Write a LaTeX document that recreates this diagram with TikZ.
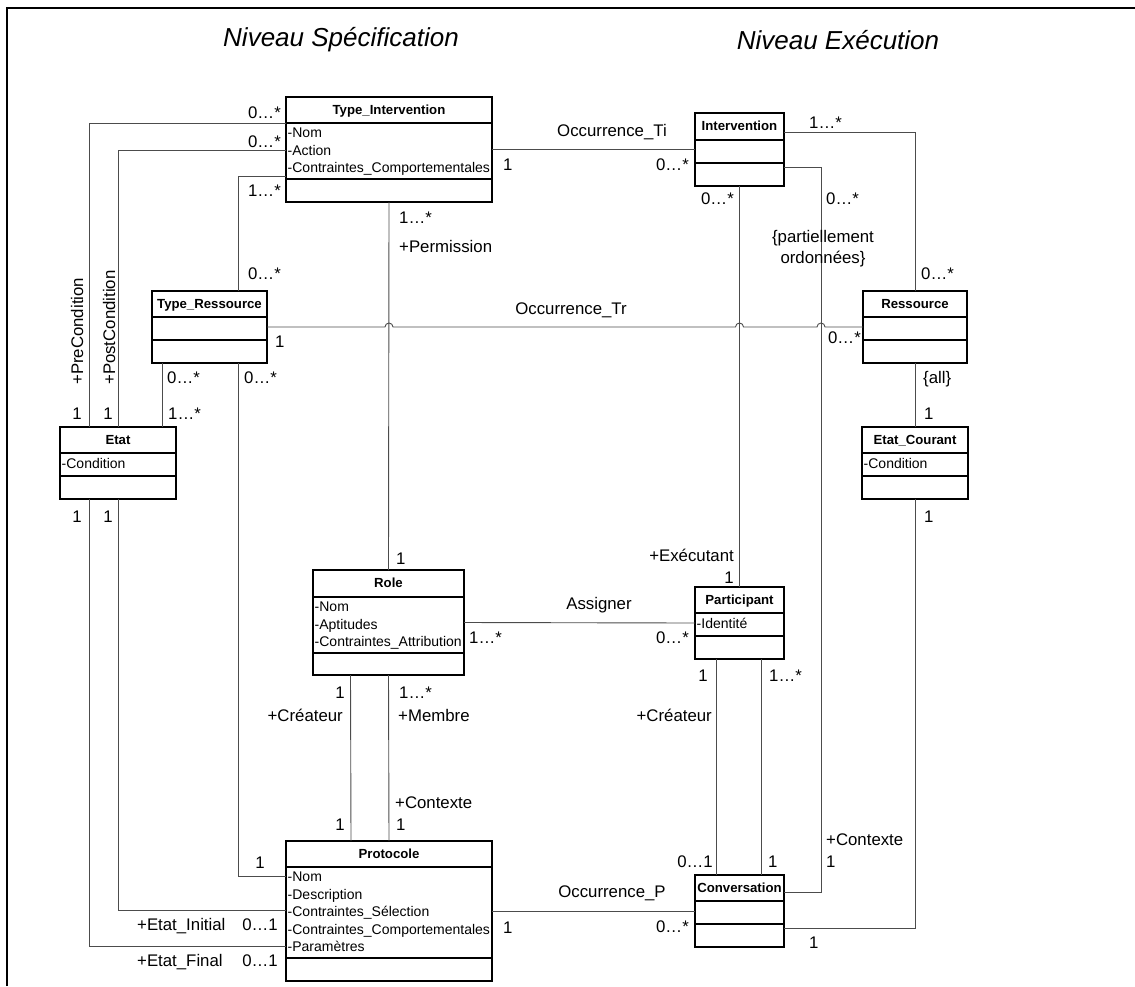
\documentclass[tikz,border=0pt]{standalone}
\usepackage{fontspec}
\setmainfont{Liberation Sans}
\usetikzlibrary{calc}

\tikzset{
  classbox/.style={draw, line width=1.2pt, inner sep=0, outer sep=0, anchor=north west},
  classtitle/.style={inner sep=0, font=\fontsize{13.2}{15}\selectfont\bfseries, text height=9.5pt, text depth=0pt},
  sepline/.style={line width=1.2pt},
  attr/.style={inner sep=0, anchor=north west, align=left, font=\fontsize{14}{17.4}\selectfont},
  assoc/.style={draw=black!70, line width=0.9pt},
  lbl/.style={inner sep=0, font=\fontsize{16.8}{19}\selectfont, text height=12pt, text depth=0pt},
  level/.style={inner sep=0, font=\fontsize{26}{30}\selectfont\itshape}
}

% name, top left, width, height, title, first line, second line, attributes
\newcommand{\umlclass}[8]{%
  \node[classbox, minimum width=#3, minimum height=#4] (#1) at #2 {};
  \node[classtitle] (#1-title) at ([yshift=-13]#1.north) {#5};
  \draw[sepline] ([yshift=-#6]#1.north west) -- ([yshift=-#6]#1.north east);
  \draw[sepline] ([yshift=-#7]#1.north west) -- ([yshift=-#7]#1.north east);
  \node[attr] (#1-attr) at ([xshift=1.5, yshift=-#6-5]#1.north west) {#8};
}

\begin{document}
\begin{tikzpicture}[x=1pt, y=-1pt]
\useasboundingbox (0,0) rectangle (1135,986);
\draw[line width=1.6pt] (7,986) -- (7,8) -- (1135,8);

\node[level] (spec) at (341,40) {Niveau Spécification};
\node[level] (exec) at (838,40) {Niveau Exécution};

\umlclass{ti}{(286,97)}{206}{105}{Type\_Intervention}{26}{82}{-Nom\\-Action\\-Contraintes\_Comportementales}
\umlclass{tr}{(152,291)}{115}{72}{Type\_Ressource}{26}{49}{}
\umlclass{etat}{(60,427)}{116}{72}{Etat}{26}{49}{-Condition}
\umlclass{role}{(313,570)}{151}{105}{Role}{27}{83}{-Nom\\-Aptitudes\\-Contraintes\_Attribution}
\umlclass{proto}{(286,841)}{206}{140}{Protocole}{26}{117}{-Nom\\-Description\\-Contraintes\_Sélection\\-Contraintes\_Comportementales\\-Paramètres}
\umlclass{intv}{(695,113)}{89}{73}{Intervention}{27}{50}{}
\umlclass{res}{(863,291)}{104}{72}{Ressource}{26}{49}{}
\umlclass{ec}{(862,427)}{106}{72}{Etat\_Courant}{26}{49}{-Condition}
\umlclass{part}{(695,587)}{89}{72}{Participant}{26}{49}{-Identité}
\umlclass{conv}{(695,875)}{89}{72}{Conversation}{26}{49}{}

\coordinate (ctx) at (821,500);

\draw[assoc] ([yshift=-26]ti.north west) -| ($(etat.north)+(-29,0)$);
\draw[assoc] ($(etat.south)+(-29,0)$) |- ([yshift=-105]proto.north west);
\draw[assoc] ([yshift=-53]ti.north west) -| (etat.north);
\draw[assoc] (etat.south) |- ([yshift=-69]proto.north west);
\draw[assoc] ([yshift=-79]ti.north west) -| ([xshift=86]tr.north west);
\draw[assoc] ([xshift=10]tr.south west) -- ([xshift=44]etat.north);
\draw[assoc] ([xshift=86]tr.south west) |- ([yshift=-35]proto.north west);
\draw[assoc] (ti.south) -- (role.north);
\draw[assoc] (tr.east) -- ($(ti.south |- tr.east)+(-4,0)$) arc[start angle=180, end angle=0, radius=4pt]
  -- ($(intv.south |- tr.east)+(-4,0)$) arc[start angle=180, end angle=0, radius=4pt]
  -- ($(ctx |- tr.east)+(-4,0)$) arc[start angle=180, end angle=0, radius=4pt] -- (res.west);
\draw[assoc] (ti.east) -- (intv.west);
\draw[assoc] ([yshift=-19]intv.north east) -| (res.north);
\draw[assoc] (intv.south) -- (part.north);
\draw[assoc] ([yshift=-54]intv.north east) -| (ctx) |- ([yshift=-17]conv.north east);
\draw[assoc] (res.south) -- (ec.north);
\draw[assoc] (ec.south) |- ([yshift=-53]conv.north east);
\draw[assoc] (role.east) -- (part.west);
\draw[assoc] ([xshift=-38]role.south) -- ([xshift=-38]proto.north);
\draw[assoc] (role.south) -- (proto.north);
\draw[assoc] ([xshift=-23]part.south) -- ([xshift=-23]conv.north);
\draw[assoc] ([xshift=22]part.south) -- ([xshift=22]conv.north);
\draw[assoc] (proto.east) -- (conv.west);

\node[lbl, anchor=east] (ti-pre) at (281,112) {0…*};
\node[lbl, anchor=east] (ti-post) at (281,141) {0…*};
\node[lbl, anchor=east] (ti-tr) at (281,190) {1…*};
\node[lbl, anchor=east] (tr-ti) at (281,273) {0…*};
\node[lbl, anchor=west] (ti-occ) at (503,164) {1};
\node[lbl, anchor=west] (ti-role) at (399,217) {1…*};
\node[lbl, anchor=west] (perm) at (399,246) {+Permission};
\node[lbl] (occ-tr) at (571,308) {Occurrence\_Tr};
\node[lbl, anchor=west] (tr-occ) at (275,341) {1};
\node[lbl, anchor=west] (tr-etat) at (167,377) {0…*};
\node[lbl, anchor=west] (tr-proto) at (244,377) {0…*};
\node[lbl, anchor=east] (etat-pre) at (82,413) {1};
\node[lbl, anchor=east] (etat-post) at (113,413) {1};
\node[lbl, anchor=west] (etat-tr) at (168,413) {1…*};
\node[lbl, anchor=east] (etat-fin) at (82,516) {1};
\node[lbl, anchor=east] (etat-ini) at (113,516) {1};
\node[lbl, anchor=west, rotate=90] (pre) at (77,385) {+PreCondition};
\node[lbl, anchor=west, rotate=90] (post) at (109,385) {+PostCondition};
\node[lbl] (occ-ti) at (612,130) {Occurrence\_Ti};
\node[lbl, anchor=east] (intv-occ) at (689,164) {0…*};
\node[lbl, anchor=west] (intv-res) at (809,122) {1…*};
\node[lbl, anchor=east] (intv-part) at (734,198) {0…*};
\node[lbl, anchor=west] (intv-conv) at (826,198) {0…*};
\node[inner sep=0, align=center, font=\fontsize{16.8}{21}\selectfont] (ordre) at (823,249) {\{partiellement\\ordonnées\}};
\node[lbl, anchor=west] (res-intv) at (921,273) {0…*};
\node[lbl, anchor=east] (res-occ) at (861,337) {0…*};
\node[lbl, anchor=west] (all) at (923,377) {\{all\}};
\node[lbl, anchor=west] (ec-res) at (924,413) {1};
\node[lbl, anchor=west] (ec-conv) at (924,516) {1};
\node[lbl, anchor=west] (role-ti) at (396,558) {1};
\node[lbl, anchor=east] (exe) at (734,555) {+Exécutant};
\node[lbl, anchor=east] (part-intv) at (734,577) {1};
\node[lbl] (assigner) at (599,603) {Assigner};
\node[lbl, anchor=west] (role-part) at (469,637) {1…*};
\node[lbl, anchor=east] (part-role) at (689,637) {0…*};
\node[lbl, anchor=east] (part-crea) at (708,675) {1};
\node[lbl, anchor=west] (part-conv) at (769,675) {1…*};
\node[lbl, anchor=east] (role-crea) at (345,692) {1};
\node[lbl, anchor=west] (role-memb) at (399,692) {1…*};
\node[lbl, anchor=east] (crea1) at (343,715) {+Créateur};
\node[lbl, anchor=west] (membre) at (398,715) {+Membre};
\node[lbl, anchor=east] (crea2) at (712,715) {+Créateur};
\node[lbl, anchor=west] (ctx1) at (395,802) {+Contexte};
\node[lbl, anchor=east] (proto-crea) at (345,824) {1};
\node[lbl, anchor=west] (proto-memb) at (396,824) {1};
\node[lbl, anchor=east] (proto-tr) at (265,862) {1};
\node[lbl, anchor=east] (conv-crea) at (713,861) {0…1};
\node[lbl, anchor=west] (conv-part) at (768,861) {1};
\node[lbl, anchor=west] (ctx2) at (826,839) {+Contexte};
\node[lbl, anchor=west] (conv-intv) at (826,861) {1};
\node[lbl] (occ-p) at (612,891) {Occurrence\_P};
\node[lbl, anchor=west] (ini) at (137,924) {+Etat\_Initial};
\node[lbl, anchor=east] (proto-ini) at (278,924) {0…1};
\node[lbl, anchor=west] (proto-occ) at (503,927) {1};
\node[lbl, anchor=east] (conv-occ) at (689,926) {0…*};
\node[lbl, anchor=west] (fin) at (137,960) {+Etat\_Final};
\node[lbl, anchor=east] (proto-fin) at (278,960) {0…1};
\node[lbl, anchor=west] (conv-ec) at (809,942) {1};
\end{tikzpicture}
\end{document}
